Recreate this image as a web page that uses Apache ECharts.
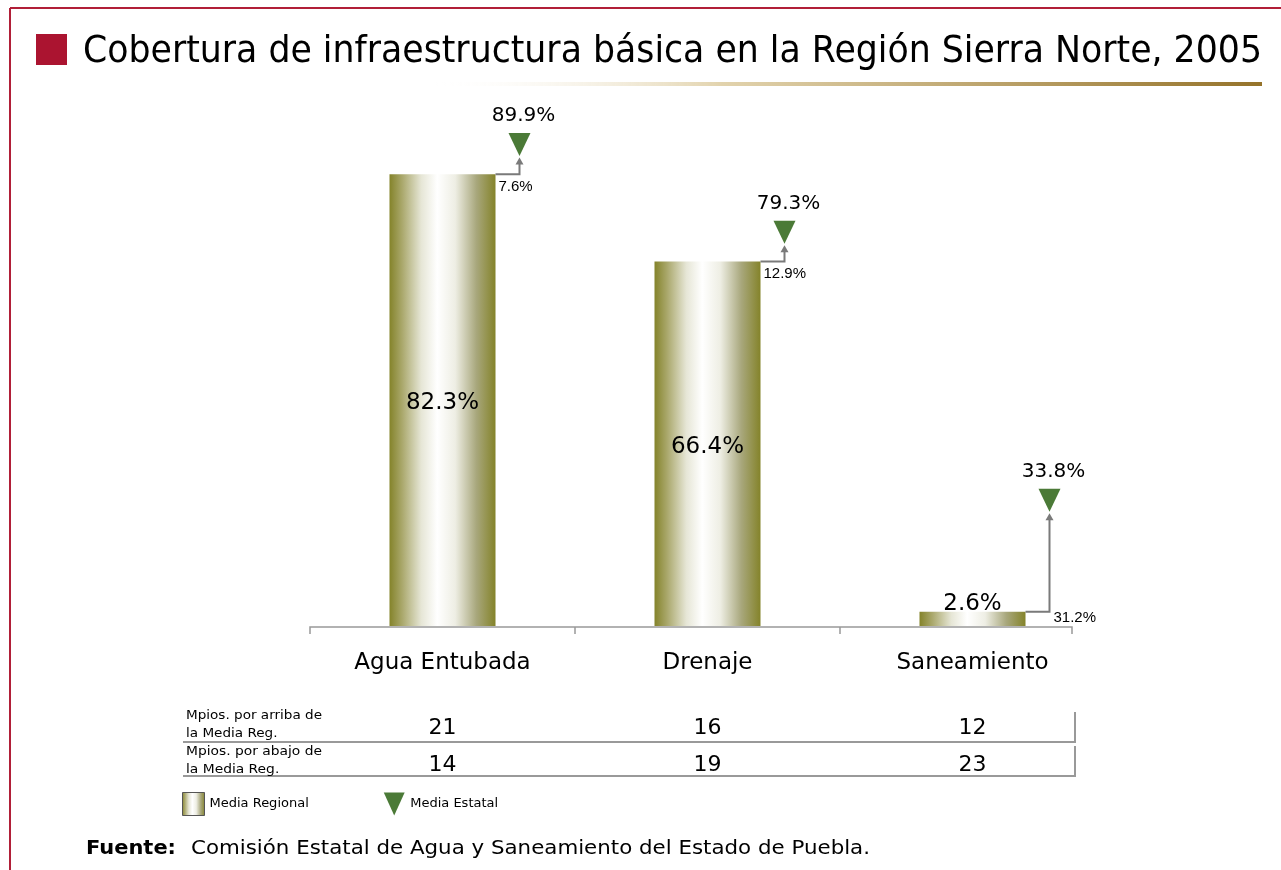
<!DOCTYPE html>
<html>
<head>
<meta charset="utf-8">
<script src="https://cdn.jsdelivr.net/npm/echarts@6/dist/echarts.min.js"></script>
<style>
  html, body { margin: 0; padding: 0; background: #fff; }
  #chart { width: 1281px; height: 870px; }
</style>
</head>
<body>
<div id="chart"></div>
<script>
  // datos
  const categorias = ['Agua Entubada', 'Drenaje', 'Saneamiento']
  const mediaRegional = [82.3, 66.4, 2.6]
  const mediaEstatal = [89.9, 79.3, 33.8]
  const diferencia = [7.6, 12.9, 31.2]
  // altura a la que se dibuja cada triangulo (no es la escala del valor)
  const alturaTriangulo = [87.7, 71.7, 22.9]
  const mpiosArriba = ['21', '16', '12']
  const mpiosAbajo = ['14', '19', '23']

  const titulo = 'Cobertura de infraestructura básica en la Región Sierra Norte, 2005'
  const fuente = 'Comisión Estatal de Agua y Saneamiento del Estado de Puebla.'

  // ajusta el ancho del texto (la fuente original es mas estrecha)
  const ctx = document.createElement('canvas').getContext('2d')
  function fitScale(text, font, width) {
    ctx.font = font
    return width / ctx.measureText(text).width
  }

  const barraColor = new echarts.graphic.LinearGradient(0, 0, 1, 0, [
    { offset: 0, color: '#84832a' },
    { offset: 0.12, color: '#aaa86c' },
    { offset: 0.3, color: '#e6e6d6' },
    { offset: 0.45, color: '#ffffff' },
    { offset: 0.62, color: '#eeeee4' },
    { offset: 0.82, color: '#a8a77c' },
    { offset: 1, color: '#84832a' }
  ])
  const verde = '#4b7a37'
  const gris = '#7a7a7a'

  const chart = echarts.init(document.getElementById('chart'))

  const fTitle = '38px "DejaVu Sans"'
  const fSmall = '12.5px "DejaVu Sans"'
  const fSrc = '19px "DejaVu Sans"'
  const fSrcB = 'bold 19px "DejaVu Sans"'

  function tablaLabel(lineas, yTop) {
    return lineas.map((t, i) => ({
      type: 'text', x: 186, y: yTop + i * 18,
      scaleX: fitScale(lineas[0], fSmall, 136),
      style: { text: t, font: fSmall, fill: '#000', verticalAlign: 'middle' }
    }))
  }

  const option = {
    animation: false,
    textStyle: { fontFamily: 'DejaVu Sans' },
    grid: { left: 310, width: 795, top: 77, height: 549 },
    xAxis: [{
      type: 'category',
      data: categorias,
      axisLine: { show: false },
      axisTick: { show: false },
      axisLabel: { margin: 26, fontSize: 23, color: '#000' }
    }, {
      type: 'category',
      data: mpiosArriba,
      position: 'bottom',
      axisLine: { show: false },
      axisTick: { show: false },
      axisLabel: { margin: 91, fontSize: 22, color: '#000' }
    }, {
      type: 'category',
      data: mpiosAbajo,
      position: 'bottom',
      axisLine: { show: false },
      axisTick: { show: false },
      axisLabel: { margin: 128, fontSize: 22, color: '#000' }
    }],
    yAxis: { type: 'value', min: 0, max: 100, show: false },
    legend: {
      left: 182,
      top: 792,
      padding: 0,
      itemWidth: 22,
      itemHeight: 23,
      itemGap: 75,
      selectedMode: false,
      textStyle: { fontSize: 13, color: '#000' },
      data: [
        { name: 'Media Regional', icon: 'rect', itemStyle: { borderColor: '#555', borderWidth: 1 } },
        { name: 'Media Estatal', icon: 'path://M0,0L20,0L10,22Z' }
      ]
    },
    series: [{
      name: 'Media Regional',
      type: 'bar',
      barWidth: 106,
      itemStyle: { color: barraColor },
      data: mediaRegional.map(v => ({
        value: v,
        label: v < 10 ? { position: 'top', distance: -4 } : { position: 'inside', offset: [0, 3] }
      })),
      label: {
        show: true,
        fontSize: 23,
        color: '#000',
        formatter: p => p.value.toFixed(1) + '%'
      }
    }, {
      name: 'Media Estatal',
      type: 'scatter',
      symbol: 'path://M0,0L20,0L10,22Z',
      symbolSize: [22, 23],
      symbolOffset: [77, 0],
      itemStyle: { color: verde, opacity: 1 },
      data: alturaTriangulo.map((v, i) => [i, v]),
      label: {
        show: true,
        position: 'top',
        distance: 7,
        offset: [4, 0],
        fontSize: 20,
        color: '#000',
        formatter: p => mediaEstatal[p.dataIndex].toFixed(1) + '%'
      },
      z: 5
    }, {
      name: 'flechas',
      type: 'custom',
      data: categorias.map((c, i) => [i, mediaRegional[i], alturaTriangulo[i], diferencia[i]]),
      renderItem: function (params, api) {
        const top = api.coord([api.value(0), api.value(1)])
        const tri = api.coord([api.value(0), api.value(2)])
        const x0 = top[0] + 53
        const x1 = top[0] + 77
        const yBar = top[1]
        const yTip = tri[1] + 13
        const corta = api.value(1) < 10
        return {
          type: 'group',
          children: [{
            type: 'polyline',
            shape: { points: [[x0, yBar], [x1, yBar], [x1, yTip + 6]] },
            style: { stroke: gris, lineWidth: 2, fill: null }
          }, {
            type: 'polygon',
            shape: { points: [[x1 - 4, yTip + 7], [x1 + 4, yTip + 7], [x1, yTip]] },
            style: { fill: gris }
          }, {
            type: 'text',
            x: corta ? x1 + 4 : x0 + 3,
            y: corta ? yBar - 1 : yBar + 5,
            style: {
              text: api.value(3).toFixed(1) + '%',
              font: '15px "Liberation Sans"',
              fill: '#000',
              verticalAlign: 'top'
            }
          }]
        }
      },
      z: 4
    }],
    graphic: [
      // marco rojo
      { type: 'line', shape: { x1: 10, y1: 8, x2: 1281, y2: 8 }, style: { stroke: '#b11f38', lineWidth: 2 } },
      { type: 'line', shape: { x1: 10, y1: 8, x2: 10, y2: 870 }, style: { stroke: '#b11f38', lineWidth: 2 } },
      { type: 'rect', shape: { x: 36, y: 34, width: 31, height: 31 }, style: { fill: '#ab1430' } },
      {
        type: 'text', x: 83, y: 52, scaleX: fitScale(titulo, fTitle, 1179),
        style: { text: titulo, font: fTitle, fill: '#000', verticalAlign: 'middle' }
      },
      {
        type: 'rect', shape: { x: 430, y: 82, width: 832, height: 4 },
        style: {
          fill: new echarts.graphic.LinearGradient(0, 0, 1, 0, [
            { offset: 0, color: 'rgba(255,255,255,0)' },
            { offset: 0.35, color: '#e2d3ad' },
            { offset: 1, color: '#95732a' }
          ])
        }
      },
      // eje x
      {
        type: 'polyline',
        shape: { points: [[310, 634], [310, 627], [1072, 627], [1072, 634]] },
        style: { stroke: '#999', lineWidth: 1.5, fill: null }
      },
      { type: 'line', shape: { x1: 575, y1: 627, x2: 575, y2: 634 }, style: { stroke: '#999', lineWidth: 1.5 } },
      { type: 'line', shape: { x1: 840, y1: 627, x2: 840, y2: 634 }, style: { stroke: '#999', lineWidth: 1.5 } },
      // tabla
      { type: 'polyline', shape: { points: [[183, 742], [1075, 742], [1075, 712]] }, style: { stroke: '#999', lineWidth: 2, fill: null } },
      { type: 'polyline', shape: { points: [[183, 776], [1075, 776], [1075, 746]] }, style: { stroke: '#999', lineWidth: 2, fill: null } },
      ...tablaLabel(['Mpios. por arriba de', 'la Media Reg.'], 716),
      ...tablaLabel(['Mpios. por abajo de', 'la Media Reg.'], 752),
      // fuente
      {
        type: 'text', x: 86, y: 849, scaleX: fitScale('Fuente:', fSrcB, 90),
        style: { text: 'Fuente:', font: fSrcB, fill: '#000', verticalAlign: 'middle' }
      },
      {
        type: 'text', x: 191, y: 849, scaleX: fitScale(fuente, fSrc, 679),
        style: { text: fuente, font: fSrc, fill: '#000', verticalAlign: 'middle' }
      }
    ]
  }
  chart.setOption(option)
</script>
</body>
</html>
